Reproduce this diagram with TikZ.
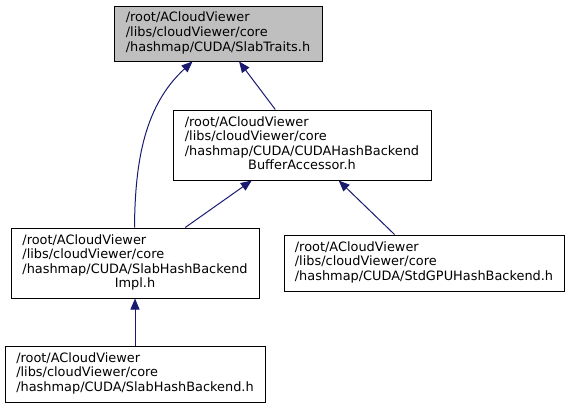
\documentclass[tikz,border=0pt]{standalone}
\usepackage{fontspec}
\setmainfont{DejaVu Sans}
\usetikzlibrary{arrows.meta,calc}
\definecolor{edgeblue}{HTML}{191970}
\definecolor{topfill}{HTML}{BFBFBF}
\tikzset{
  box/.style={draw=black, line width=1pt, rectangle, inner sep=0pt, align=left,
    font=\fontsize{12.9}{14.6}\selectfont},
  edge/.style={draw=edgeblue, line width=1pt, {Triangle[length=11pt,width=9pt]}-},
}
\newcommand{\ctrline}[1]{\multicolumn{1}{@{}c@{}}{#1}}
\begin{document}
\begin{tikzpicture}[x=1pt,y=-1pt]
\useasboundingbox (0,0) rectangle (571,408);
\node[box, fill=topfill, minimum width=208pt, minimum height=55pt] (top) at (218,33.5)
  {\begin{tabular}{@{}l@{}}/root/ACloudViewer\\/libs/cloudViewer/core\\/hashmap/CUDA/SlabTraits.h\end{tabular}};
\node[box, minimum width=258pt, minimum height=70pt] (mid) at (302,145)
  {\begin{tabular}{@{}l@{}}/root/ACloudViewer\\/libs/cloudViewer/core\\/hashmap/CUDA/CUDAHashBackend\\\ctrline{BufferAccessor.h}\end{tabular}};
\node[box, minimum width=248pt, minimum height=70pt] (impl) at (135,263)
  {\begin{tabular}{@{}l@{}}/root/ACloudViewer\\/libs/cloudViewer/core\\/hashmap/CUDA/SlabHashBackend\\\ctrline{Impl.h}\end{tabular}};
\node[box, minimum width=280pt, minimum height=56pt] (std) at (424,263)
  {\begin{tabular}{@{}l@{}}/root/ACloudViewer\\/libs/cloudViewer/core\\/hashmap/CUDA/StdGPUHashBackend.h\end{tabular}};
\node[box, minimum width=260pt, minimum height=56pt] (bot) at (135,374)
  {\begin{tabular}{@{}l@{}}/root/ACloudViewer\\/libs/cloudViewer/core\\/hashmap/CUDA/SlabHashBackend.h\end{tabular}};
\draw[edge] (top) -- (mid);
\draw[edge] (mid) -- (impl);
\draw[edge] (mid) -- (std);
\draw[edge] (impl) -- (bot);
\draw[edge] ($(top.south west)+(79,0)$) .. controls (145,105) and (135,160) .. ($(impl.north west)+(124,0)$);
\end{tikzpicture}
\end{document}
